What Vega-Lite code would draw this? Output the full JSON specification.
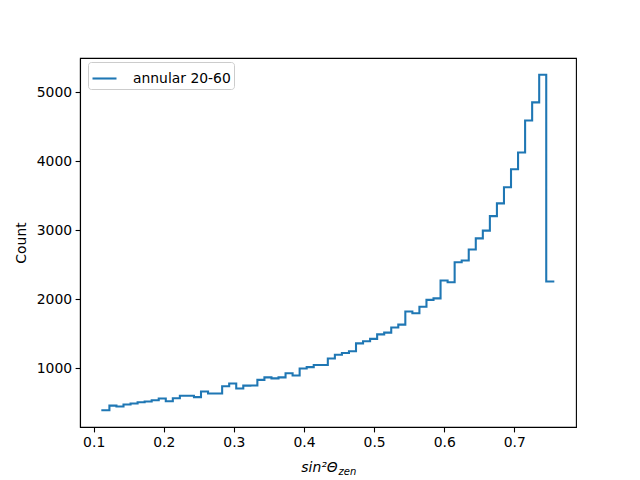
{
  "$schema": "https://vega.github.io/schema/vega-lite/v6.json",
  "autosize": "none",
  "width": 496,
  "height": 369,
  "padding": {"left": 80, "top": 58, "right": 64, "bottom": 53},
  "background": "white",
  "data": {
    "values": [
      {"start": 0.1124, "stop": 0.12245, "count": 390},
      {"start": 0.12245, "stop": 0.1325, "count": 457},
      {"start": 0.1325, "stop": 0.14255, "count": 445},
      {"start": 0.14255, "stop": 0.1526, "count": 474},
      {"start": 0.1526, "stop": 0.16265, "count": 487},
      {"start": 0.16265, "stop": 0.1727, "count": 506},
      {"start": 0.1727, "stop": 0.18275, "count": 518},
      {"start": 0.18275, "stop": 0.1928, "count": 536},
      {"start": 0.1928, "stop": 0.20285, "count": 560},
      {"start": 0.20285, "stop": 0.2129, "count": 521},
      {"start": 0.2129, "stop": 0.22295, "count": 565},
      {"start": 0.22295, "stop": 0.233, "count": 600},
      {"start": 0.233, "stop": 0.24305, "count": 600},
      {"start": 0.24305, "stop": 0.2531, "count": 580},
      {"start": 0.2531, "stop": 0.26315, "count": 663},
      {"start": 0.26315, "stop": 0.2732, "count": 632},
      {"start": 0.2732, "stop": 0.28325, "count": 632},
      {"start": 0.28325, "stop": 0.2933, "count": 737},
      {"start": 0.2933, "stop": 0.30335, "count": 779},
      {"start": 0.30335, "stop": 0.3134, "count": 705},
      {"start": 0.3134, "stop": 0.32345, "count": 747},
      {"start": 0.32345, "stop": 0.3335, "count": 750},
      {"start": 0.3335, "stop": 0.34355, "count": 830},
      {"start": 0.34355, "stop": 0.3536, "count": 867},
      {"start": 0.3536, "stop": 0.36365, "count": 852},
      {"start": 0.36365, "stop": 0.3737, "count": 867},
      {"start": 0.3737, "stop": 0.38375, "count": 926},
      {"start": 0.38375, "stop": 0.3938, "count": 895},
      {"start": 0.3938, "stop": 0.40385, "count": 995},
      {"start": 0.40385, "stop": 0.4139, "count": 1015},
      {"start": 0.4139, "stop": 0.42395, "count": 1047},
      {"start": 0.42395, "stop": 0.434, "count": 1047},
      {"start": 0.434, "stop": 0.44405, "count": 1140},
      {"start": 0.44405, "stop": 0.4541, "count": 1195},
      {"start": 0.4541, "stop": 0.46415, "count": 1220},
      {"start": 0.46415, "stop": 0.4742, "count": 1245},
      {"start": 0.4742, "stop": 0.48425, "count": 1360},
      {"start": 0.48425, "stop": 0.4943, "count": 1390},
      {"start": 0.4943, "stop": 0.50435, "count": 1425},
      {"start": 0.50435, "stop": 0.5144, "count": 1490},
      {"start": 0.5144, "stop": 0.52445, "count": 1516},
      {"start": 0.52445, "stop": 0.5345, "count": 1590},
      {"start": 0.5345, "stop": 0.54455, "count": 1632},
      {"start": 0.54455, "stop": 0.5546, "count": 1823},
      {"start": 0.5546, "stop": 0.56465, "count": 1796},
      {"start": 0.56465, "stop": 0.5747, "count": 1890},
      {"start": 0.5747, "stop": 0.58475, "count": 1990},
      {"start": 0.58475, "stop": 0.5948, "count": 2012},
      {"start": 0.5948, "stop": 0.60485, "count": 2272},
      {"start": 0.60485, "stop": 0.6149, "count": 2246},
      {"start": 0.6149, "stop": 0.62495, "count": 2536},
      {"start": 0.62495, "stop": 0.635, "count": 2562},
      {"start": 0.635, "stop": 0.64505, "count": 2722},
      {"start": 0.64505, "stop": 0.6551, "count": 2882},
      {"start": 0.6551, "stop": 0.66515, "count": 2995},
      {"start": 0.66515, "stop": 0.6752, "count": 3205},
      {"start": 0.6752, "stop": 0.68525, "count": 3390},
      {"start": 0.68525, "stop": 0.6953, "count": 3624},
      {"start": 0.6953, "stop": 0.70535, "count": 3884},
      {"start": 0.70535, "stop": 0.7154, "count": 4128},
      {"start": 0.7154, "stop": 0.72545, "count": 4592},
      {"start": 0.72545, "stop": 0.7355, "count": 4855},
      {"start": 0.7355, "stop": 0.74555, "count": 5255},
      {"start": 0.74555, "stop": 0.7556, "count": 2258}
    ]
  },
  "transform": [{"fold": ["start", "stop"], "as": ["edge", "x"]}],
  "layer": [
    {
      "mark": {"type": "line", "strokeWidth": 2.08, "interpolate": "linear", "strokeJoin": "miter", "strokeCap": "square"},
      "encoding": {
        "x": {
          "field": "x", "type": "quantitative",
          "scale": {"domain": [0.0805, 0.788], "nice": false, "zero": false},
          "axis": {
            "values": [0.1, 0.2, 0.3, 0.4, 0.5, 0.6, 0.7],
            "format": ".1f",
            "title": "sin²Θ",
            "titleFontStyle": "italic",
            "titleAlign": "center",
            "titleBaseline": "alphabetic",
            "titleX": 239,
            "titleY": 44
          }
        },
        "y": {
          "field": "count", "type": "quantitative",
          "scale": {"domain": [147, 5498], "nice": false, "zero": false},
          "axis": {"values": [1000, 2000, 3000, 4000, 5000], "format": "d", "title": "Count", "titlePadding": 8}
        },
        "order": [
          {"field": "start", "type": "quantitative"},
          {"field": "edge", "type": "nominal"}
        ],
        "color": {
          "datum": "annular 20-60", "type": "nominal",
          "scale": {"range": ["#1f77b4"]},
          "legend": {
            "title": null,
            "orient": "none",
            "legendX": 8,
            "legendY": 4,
            "padding": 3,
            "symbolType": "stroke",
            "symbolSize": 576,
            "symbolStrokeWidth": 2.08,
            "labelFontSize": 13.9,
            "labelFont": "DejaVu Sans",
            "labelColor": "black",
            "labelOffset": 15,
            "fillColor": "rgba(255,255,255,0.8)",
            "strokeColor": "#cccccc",
            "cornerRadius": 3
          }
        }
      }
    },
    {
      "mark": {"type": "line", "strokeOpacity": 0},
      "encoding": {
        "x": {
          "field": "x", "type": "quantitative",
          "scale": {"domain": [0.0805, 0.788], "nice": false, "zero": false},
          "axis": {
            "orient": "bottom",
            "domain": false, "ticks": false, "labels": false, "grid": false,
            "title": "zen",
            "titleFontSize": 10,
            "titleFontStyle": "italic",
            "titleAlign": "left",
            "titleBaseline": "alphabetic",
            "titleX": 258,
            "titleY": 47
          }
        },
        "y": {"field": "count", "type": "quantitative"}
      }
    }
  ],
  "resolve": {"axis": {"x": "independent"}},
  "config": {
    "view": {"stroke": "black", "strokeWidth": 1.1},
    "axis": {
      "grid": false,
      "domainColor": "black",
      "domainWidth": 1.1,
      "tickColor": "black",
      "tickWidth": 1.1,
      "tickSize": 4.9,
      "labelFont": "DejaVu Sans",
      "labelFontSize": 13.9,
      "labelColor": "black",
      "labelPadding": 3.5,
      "titleFont": "DejaVu Sans",
      "titleFontSize": 13.9,
      "titleFontWeight": "normal",
      "titleColor": "black"
    }
  }
}
